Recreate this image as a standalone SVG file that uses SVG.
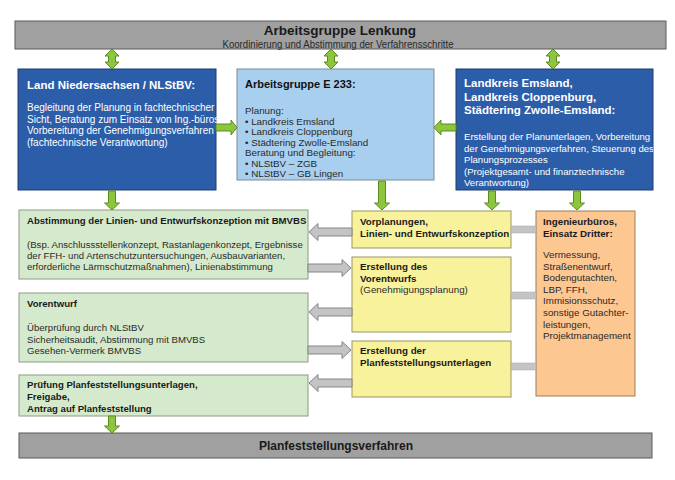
<svg xmlns="http://www.w3.org/2000/svg" width="675" height="480" viewBox="0 0 675 480">
<style>
text{font-family:"Liberation Sans",Arial,sans-serif;}
.bar{fill:#a0a0a0;stroke:#5a5a5a;stroke-width:1;}
.blue{fill:#2c5da9;stroke:#1d3d73;stroke-width:1;}
.lblue{fill:#a9cfee;stroke:#7d8c99;stroke-width:1;}
.green{fill:#d5eacc;stroke:#8c9a84;stroke-width:1;}
.yellow{fill:#f8f29d;stroke:#9a9560;stroke-width:1;}
.orange{fill:#fdc792;stroke:#9a7c5c;stroke-width:1;}
.garrow{fill:#8cc63f;stroke:#5d8b1f;stroke-width:1;}
.grarrow{fill:#c4c4c6;stroke:#858585;stroke-width:1;}
.link{fill:#c4c4c6;stroke:#a8a8a8;stroke-width:0.5;}
.wt{fill:#ffffff;}
.bt{font-weight:bold;}
.dk{fill:#2a2a2a;}
</style>
<defs>
<path id="dblv" d="M0,0 L7,7 L3.5,7 L3.5,13 L7,13 L0,20 L-7,13 L-3.5,13 L-3.5,7 L-7,7 Z"/>
<clipPath id="lkclip"><rect x="456" y="69" width="197" height="121"/></clipPath>
</defs>

<g id="lenkung">
<rect class="bar" x="15" y="21" width="651" height="28"/>
<text class="bt" x="340" y="35" font-size="13.5" text-anchor="middle" fill="#1a1a1a">Arbeitsgruppe Lenkung</text>
<text x="338" y="47.5" font-size="10" text-anchor="middle" fill="#2a2a2a" textLength="231" lengthAdjust="spacingAndGlyphs">Koordinierung und Abstimmung der Verfahrensschritte</text>
</g>

<g id="land">
<rect class="blue" x="18" y="69" width="198" height="121"/>
<text class="wt bt" x="27" y="89" font-size="11.5">Land Niedersachsen / NLStBV:</text>
<text class="wt" font-size="10"><tspan x="27" y="111">Begleitung der Planung in fachtechnischer</tspan><tspan x="27" y="122.5">Sicht, Beratung zum Einsatz von Ing.-büros,</tspan><tspan x="27" y="134">Vorbereitung der Genehmigungsverfahren</tspan><tspan x="27" y="145.5">(fachtechnische Verantwortung)</tspan></text>
</g>

<g id="e233">
<rect class="lblue" x="237" y="69" width="197" height="111"/>
<text class="bt" x="245" y="88" font-size="11" fill="#111">Arbeitsgruppe E 233:</text>
<text class="dk" font-size="9.8"><tspan x="245" y="114">Planung:</tspan><tspan x="245" y="124.5">• Landkreis Emsland</tspan><tspan x="245" y="135">• Landkreis Cloppenburg</tspan><tspan x="245" y="145.5">• Städtering Zwolle-Emsland</tspan><tspan x="245" y="156">Beratung und Begleitung:</tspan><tspan x="245" y="166.5">• NLStBV – ZGB</tspan><tspan x="245" y="177">• NLStBV – GB Lingen</tspan></text>
</g>

<g id="landkreis">
<rect class="blue" x="456" y="69" width="197" height="121"/>
<text class="wt bt" font-size="11.5"><tspan x="464" y="87">Landkreis Emsland,</tspan><tspan x="464" y="100.5">Landkreis Cloppenburg,</tspan><tspan x="464" y="114">Städtering Zwolle-Emsland:</tspan></text>
<text class="wt" font-size="9.6" clip-path="url(#lkclip)"><tspan x="464" y="140">Erstellung der Planunterlagen, Vorbereitung</tspan><tspan x="464" y="151.5">der Genehmigungsverfahren, Steuerung des</tspan><tspan x="464" y="163">Planungsprozesses</tspan><tspan x="464" y="174.5">(Projektgesamt- und finanztechnische</tspan><tspan x="464" y="186">Verantwortung)</tspan></text>
</g>

<g id="abstimmung">
<rect class="green" x="19" y="210" width="289" height="69"/>
<text class="bt" x="27" y="224" font-size="9.6" fill="#1a1a1a">Abstimmung der Linien- und Entwurfskonzeption mit BMVBS</text>
<text class="dk" font-size="9.6"><tspan x="27" y="248">(Bsp. Anschlussstellenkonzept, Rastanlagenkonzept, Ergebnisse</tspan><tspan x="27" y="259">der FFH- und Artenschutzuntersuchungen, Ausbauvarianten,</tspan><tspan x="27" y="270">erforderliche Lärmschutzmaßnahmen), Linienabstimmung</tspan></text>
</g>

<g id="vorentwurf">
<rect class="green" x="19" y="293" width="289" height="69"/>
<text class="bt" x="27" y="307" font-size="9.6" fill="#1a1a1a">Vorentwurf</text>
<text class="dk" font-size="9.6"><tspan x="27" y="331">Überprüfung durch NLStBV</tspan><tspan x="27" y="342.5">Sicherheitsaudit, Abstimmung mit BMVBS</tspan><tspan x="27" y="354">Gesehen-Vermerk BMVBS</tspan></text>
</g>

<g id="pruefung">
<rect class="green" x="19" y="375" width="289" height="41"/>
<text class="bt" font-size="9.6" fill="#1a1a1a"><tspan x="27" y="388">Prüfung Planfeststellungsunterlagen,</tspan><tspan x="27" y="400">Freigabe,</tspan><tspan x="27" y="412">Antrag auf Planfeststellung</tspan></text>
</g>

<g id="vorplanungen">
<rect class="yellow" x="352" y="211" width="159" height="37"/>
<text class="bt" font-size="9.8" fill="#1a1a1a"><tspan x="360" y="225">Vorplanungen,</tspan><tspan x="360" y="237">Linien- und Entwurfskonzeption</tspan></text>
</g>

<g id="erst-vorentwurf">
<rect class="yellow" x="352" y="257" width="159" height="75"/>
<text class="bt" font-size="9.8" fill="#1a1a1a"><tspan x="360" y="270">Erstellung des</tspan><tspan x="360" y="282">Vorentwurfs</tspan></text>
<text class="dk" x="360" y="293" font-size="9.8">(Genehmigungsplanung)</text>
</g>

<g id="erst-planfest">
<rect class="yellow" x="352" y="341" width="159" height="56"/>
<text class="bt" font-size="9.8" fill="#1a1a1a"><tspan x="360" y="354">Erstellung der</tspan><tspan x="360" y="366">Planfeststellungsunterlagen</tspan></text>
</g>

<g id="ingenieur">
<rect class="orange" x="536" y="211" width="99" height="185"/>
<text class="bt" font-size="9.8" fill="#1a1a1a"><tspan x="543" y="225">Ingenieurbüros,</tspan><tspan x="543" y="237">Einsatz Dritter:</tspan></text>
<text class="dk" font-size="9.8"><tspan x="543" y="258">Vermessung,</tspan><tspan x="543" y="269.6">Straßenentwurf,</tspan><tspan x="543" y="281.2">Bodengutachten,</tspan><tspan x="543" y="292.8">LBP, FFH,</tspan><tspan x="543" y="304.4">Immisionsschutz,</tspan><tspan x="543" y="316">sonstige Gutachter-</tspan><tspan x="543" y="327.6">leistungen,</tspan><tspan x="543" y="339.2">Projektmanagement</tspan></text>
</g>

<g id="planfeststellungsverfahren">
<rect class="bar" x="19" y="433" width="633" height="25"/>
<text class="bt" x="336" y="450" font-size="12" text-anchor="middle" fill="#1a1a1a">Planfeststellungsverfahren</text>
</g>

<g id="connectors">
<use href="#dblv" class="garrow" x="112" y="49"/>
<use href="#dblv" class="garrow" x="331" y="49"/>
<use href="#dblv" class="garrow" x="553" y="49"/>
<path class="garrow" d="M216,124 L231,124 L231,120 L237,127.5 L231,135 L231,131 L216,131 Z"/>
<path class="garrow" d="M456,124 L441,124 L441,120 L434,127.5 L441,135 L441,131 L456,131 Z"/>
<path class="garrow" d="M108.5,191 L115.5,191 L115.5,203 L119.5,203 L112,210 L104.5,203 L108.5,203 Z"/>
<path class="garrow" d="M378.5,181 L385.5,181 L385.5,203 L389.5,203 L382,210 L374.5,203 L378.5,203 Z"/>
<path class="garrow" d="M488.5,191 L495.5,191 L495.5,203 L499.5,203 L492,210 L484.5,203 L488.5,203 Z"/>
<path class="garrow" d="M573.5,191 L580.5,191 L580.5,203 L584.5,203 L577,210 L569.5,203 L573.5,203 Z"/>
<path class="garrow" d="M108.5,416 L115.5,416 L115.5,426 L119.5,426 L112,433 L104.5,426 L108.5,426 Z"/>
<path class="grarrow" d="M352,228 L318,228 L318,223.5 L309,232 L318,240.5 L318,236 L352,236 Z"/>
<path class="grarrow" d="M308,264 L342,264 L342,259.5 L351,268 L342,276.5 L342,272 L308,272 Z"/>
<path class="grarrow" d="M352,308 L318,308 L318,303.5 L309,312 L318,320.5 L318,316 L352,316 Z"/>
<path class="grarrow" d="M308,346 L342,346 L342,341.5 L351,350 L342,358.5 L342,354 L308,354 Z"/>
<path class="grarrow" d="M352,379 L318,379 L318,374.5 L309,383 L318,391.5 L318,387 L352,387 Z"/>
<rect class="link" x="511" y="226" width="25" height="7"/>
<rect class="link" x="511" y="292" width="25" height="7"/>
<rect class="link" x="511" y="363" width="25" height="7"/>
</g>
</svg>
